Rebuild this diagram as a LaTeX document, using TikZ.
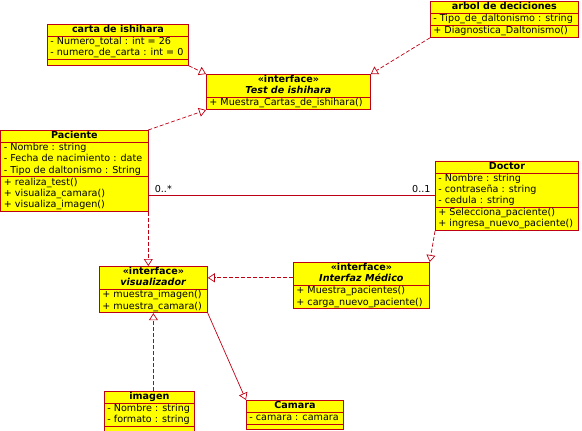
\documentclass[tikz,border=0pt]{standalone}
\usepackage{fontspec}
\setmainfont{DejaVu Sans}
\usetikzlibrary{arrows.meta, shapes.multipart, calc}
\definecolor{umlred}{RGB}{190,0,20}
\definecolor{umlyellow}{RGB}{255,255,0}
\newcommand{\umllines}[1]{\begin{tabular}{@{}l@{}}#1\end{tabular}}
\newcommand{\umlhead}[1]{\begin{tabular}{@{}c@{}}\textbf{«interface»}\\\textbf{\textit{#1}}\end{tabular}}

\begin{document}
\begin{tikzpicture}[
        x=1pt, y=-1pt,
        every node/.style={font=\fontsize{9.6}{11.2}\selectfont},
        umlclass/.style={rectangle split, rectangle split parts=3, draw=umlred, fill=umlyellow, line width=0.8pt,
            anchor=north west, inner xsep=3pt, inner ysep=0pt, rectangle split part align={center,left,left}},
        umliface/.style={umlclass, rectangle split parts=2, rectangle split part align={center,left}},
        realize/.style={color=umlred, line width=0.7pt, dash pattern=on 4pt off 2pt, -{Triangle[open, length=7pt, width=9pt]}},
        inherit/.style={color=umlred, line width=0.7pt, -{Triangle[open, length=7pt, width=9pt]}},
        assoc/.style={color=umlred, line width=0.8pt, dash pattern=on 1000pt off 1pt}
    ]
    \useasboundingbox (0,0) rectangle (582,431);

    % Classes
    \node [umlclass, minimum width=141pt] (carta) at (47,24) {\textbf{carta de ishihara}\strut
        \nodepart{two}\umllines{- Numero\_total : int = 26\\- numero\_de\_carta : int = 0}
        \nodepart{three}\rule{0pt}{5pt}};
    \node [umlclass, minimum width=148pt] (arbol) at (430,1) {\textbf{arbol de deciciones}\strut
        \nodepart{two}\umllines{- Tipo\_de\_daltonismo : string}
        \nodepart{three}\umllines{+ Diagnostica\_Daltonismo()}};
    \node [umlclass, minimum width=147pt] (paciente) at (0.5,130) {\textbf{Paciente}\strut
        \nodepart{two}\umllines{- Nombre : string\\- Fecha de nacimiento : date\\- Tipo de daltonismo : String}
        \nodepart{three}\umllines{+ realiza\_test()\\+ visualiza\_camara()\\+ visualiza\_imagen()}};
    \node [umlclass, minimum width=143pt] (doctor) at (435,160.5) {\textbf{Doctor}\strut
        \nodepart{two}\umllines{- Nombre : string\\- contraseña : string\\- cedula : string}
        \nodepart{three}\umllines{+ Selecciona\_paciente()\\+ ingresa\_nuevo\_paciente()}};
    \node [umlclass, minimum width=90pt] (imagen) at (104,391) {\textbf{imagen}\strut
        \nodepart{two}\umllines{- Nombre : string\\- formato : string}
        \nodepart{three}\rule{0pt}{4pt}};
    \node [umlclass, minimum width=97pt] (camara) at (246,400) {\textbf{Camara}\strut
        \nodepart{two}\umllines{- camara : camara}
        \nodepart{three}\rule{0pt}{4pt}};

    % Interfaces
    \node [umliface, minimum width=164pt] (test) at (206,74) {\umlhead{Test de ishihara}
        \nodepart{two}\umllines{+ Muestra\_Cartas\_de\_ishihara()}};
    \node [umliface, minimum width=108pt] (visual) at (99,266) {\umlhead{visualizador}
        \nodepart{two}\umllines{+ muestra\_imagen()\\+ muestra\_camara()}};
    \node [umliface, minimum width=136pt] (medico) at (293,262) {\umlhead{Interfaz Médico}
        \nodepart{two}\umllines{+ Muestra\_pacientes()\\+ carga\_nuevo\_paciente()}};

    % Association
    \draw[assoc] (paciente.east |- doctor.west) -- (doctor.west);
    \node [above right, xshift=3pt] (many) at (paciente.east |- doctor.west) {0..*};
    \node [above left, xshift=-1pt] (one) at (doctor.west) {0..1};

    % Realizations
    \draw[realize] (carta.south east) -- (test.north west);
    \draw[realize] (arbol.south west) -- (test.north east);
    \draw[realize] (paciente.north east) -- (test.south west);
    \draw[realize] (paciente.south east) -- (paciente.south east |- visual.north);
    \coordinate (medin) at ($(visual.north east)!0.25!(visual.south east)$);
    \draw[realize] (medico.west |- medin) -- (medin);
    \draw[realize] (doctor.south west) -- (medico.north east);
    \draw[realize] (visual.south |- imagen.north) -- (visual.south);

    % Inheritance
    \draw[inherit] (visual.south east) -- (camara.north west);

\end{tikzpicture}
\end{document}
